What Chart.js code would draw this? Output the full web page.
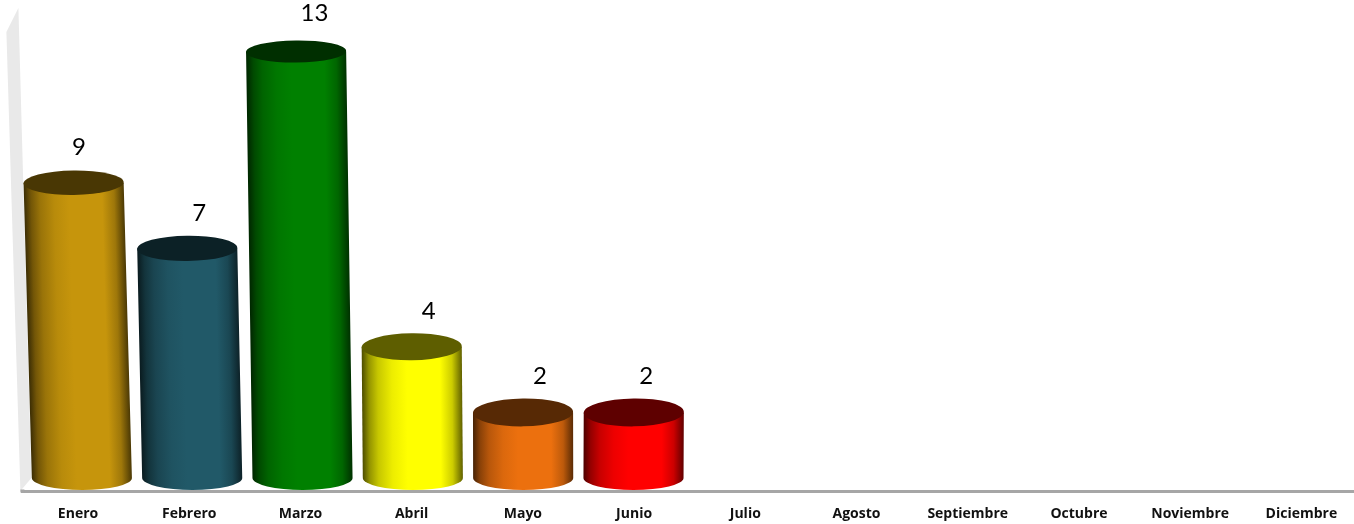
<!DOCTYPE html>
<html><head><meta charset="utf-8">
<style>html,body{margin:0;padding:0;background:#fff;overflow:hidden;width:1354px;height:524px}canvas{display:block}</style>
<script src="https://cdn.jsdelivr.net/npm/chart.js@4/dist/chart.umd.min.js"></script>
</head><body><canvas id="c" width="1357" height="524" style="width:1357px;height:524px"></canvas>
<script>
const months = ["Enero","Febrero","Marzo","Abril","Mayo","Junio","Julio","Agosto","Septiembre","Octubre","Noviembre","Diciembre"];
const counts = [9,7,13,4,2,2,null,null,null,null,null,null];
const barColors = ["#C6950C","#215968","#008000","#FFFF00","#EC700E","#FF0000"];

function shade(hex,f){
  const n=parseInt(hex.slice(1),16);
  return `rgb(${Math.round((n>>16&255)*f)},${Math.round((n>>8&255)*f)},${Math.round((n&255)*f)})`;
}
const cylinders = {
  id:'cylinders',
  beforeDatasetsDraw(chart){
    const {ctx,scales:{x,y}} = chart;
    const y0=y.getPixelForValue(0), yTop=y.top, b=y.bottom;
    ctx.save();
    ctx.fillStyle='#e9e9e9';
    ctx.beginPath();
    ctx.moveTo(x.left-16,yTop+32);
    ctx.lineTo(x.left-4,yTop+8);
    ctx.lineTo(x.left+9,y0);
    ctx.lineTo(x.left-2,b);
    ctx.closePath();ctx.fill();
    ctx.fillStyle='#a6a6a6';
    ctx.fillRect(x.left-2,b-1.5,4,3);
    ctx.restore();
  },
  beforeDatasetDraw(chart,args){
    const {ctx,scales:{y}} = chart;
    const y0=y.getPixelForValue(0);
    const ry=12, vanish=560;
    const labelShift=[1,10,14,17,17,12];
    const labelLift=[35,35,38,36,36,36];
    const meta=chart.getDatasetMeta(args.index);
    meta.data.forEach((bar,i)=>{
      const v=counts[i];
      if(v==null) return;
      const col=bar.options.backgroundColor;
      const rx=bar.width/2;
      const h=y0-bar.y;
      const xb=bar.x+0.008*(vanish-bar.x);
      const xt=xb-5.8e-5*(vanish-bar.x)*h;
      ctx.save();
      ctx.translate(xb,y0);
      ctx.transform(1,0,(xb-xt)/h,1,0,0);
      const g=ctx.createLinearGradient(-rx,0,rx,0);
      g.addColorStop(0,shade(col,.3));
      g.addColorStop(.07,shade(col,.58));
      g.addColorStop(.16,shade(col,.78));
      g.addColorStop(.3,shade(col,.93));
      g.addColorStop(.45,col);
      g.addColorStop(.78,col);
      g.addColorStop(.9,shade(col,.8));
      g.addColorStop(1,shade(col,.38));
      ctx.fillStyle=g;
      ctx.beginPath();
      ctx.moveTo(-rx,-h);
      ctx.lineTo(-rx,0);
      ctx.ellipse(0,0,rx,ry,0,Math.PI,0,true);
      ctx.lineTo(rx,-h);
      ctx.closePath();
      ctx.fill();
      ctx.restore();
      ctx.save();
      ctx.fillStyle=shade(col,.37);
      ctx.beginPath();
      ctx.ellipse(xt,bar.y,rx,14.5-h*0.008,-0.012,0,Math.PI*2);
      ctx.fill();
      ctx.fillStyle='#000';
      ctx.font='24px Lato, Carlito, sans-serif';
      ctx.textAlign='center';
      ctx.textBaseline='middle';
      ctx.fillText(String(v),bar.x+labelShift[i],bar.y-labelLift[i]);
      ctx.restore();
    });
    return false;
  }
};
new Chart(document.getElementById('c'),{
  type:'bar',
  data:{labels:months,datasets:[{data:counts,backgroundColor:barColors,barPercentage:.9,categoryPercentage:1}]},
  plugins:[cylinders],
  options:{
    responsive:false,animation:false,devicePixelRatio:1,
    layout:{padding:{left:22.4,right:0,top:0,bottom:0}},
    plugins:{legend:{display:false},title:{display:false},tooltip:{enabled:false}},
    scales:{
      x:{
        afterFit(s){s.height=33;},
        grid:{display:false,drawTicks:false},
        border:{display:true,color:'#a6a6a6',width:3},
        ticks:{autoSkip:false,maxRotation:0,minRotation:0,padding:15,color:'#111',font:{family:'"Open Sans", Lato, sans-serif',size:14,weight:'bold'}}
      },
      y:{display:false,min:-0.396,max:14.57}
    }
  }
});
</script></body></html>
